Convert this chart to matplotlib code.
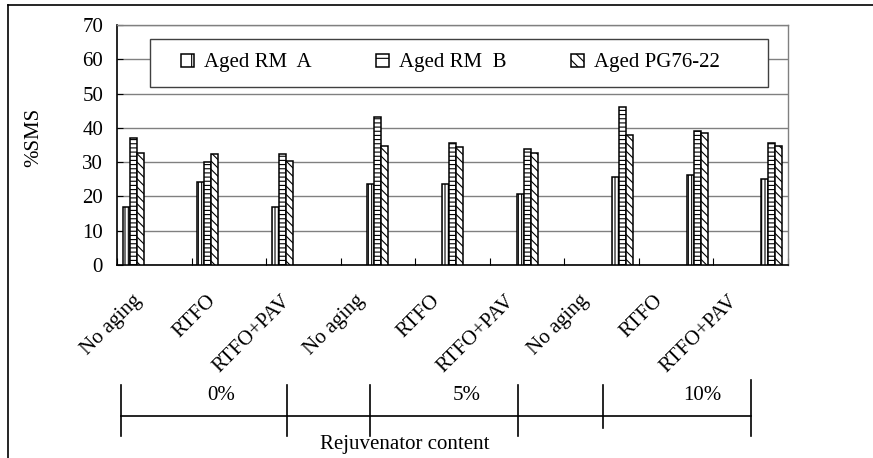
import matplotlib
matplotlib.use('Agg')
import matplotlib.pyplot as plt
import matplotlib.transforms as mtransforms
from matplotlib.patches import Patch, Rectangle
from matplotlib.lines import Line2D
import numpy as np

plt.rcParams['font.family'] = 'Liberation Serif'
plt.rcParams['font.size'] = 15
plt.rcParams['hatch.linewidth'] = 0.8

# data
aging = ['No aging', 'RTFO', 'RTFO+PAV']
contents = ['0%', '5%', '10%']
categories = aging * 3
series = ['Aged RM  A', 'Aged RM  B', 'Aged PG76-22']
rm_a = [17.0, 24.1, 17.0, 23.5, 23.5, 20.6, 25.7, 26.3, 25.1]
rm_b = [36.9, 29.9, 32.3, 43.2, 35.7, 33.8, 46.2, 39.2, 35.7]
pg76 = [32.7, 32.3, 30.4, 34.7, 34.5, 32.7, 38.0, 38.6, 34.7]
hatches = ['|||||', '----', '\\\\\\\\']
legend_hatches = ['|', '-', '\\\\\\']

W, H = 873, 458
fig = plt.figure(figsize=(W / 100, H / 100), dpi=100)


def fx(px):
    return px / W


def fy(py):
    return 1 - py / H


ax = fig.add_axes([fx(117), fy(265), (788 - 117) / W, (265 - 25) / H])

# each content level gets its own 3 slots inside a category (9 slots total)
slot = 7.0 / 74.5
start = 5.75 / 74.5
x = np.arange(len(categories))
level = x // len(aging)
for j, (vals, h) in enumerate(zip([rm_a, rm_b, pg76], hatches)):
    ax.bar(x + start + (3 * level + j) * slot, vals, width=slot, align='edge',
           color='white', edgecolor='black', linewidth=1.1, hatch=h, zorder=3)

ax.set_xlim(0, len(categories))
ax.set_ylim(0, 70)
ax.set_yticks(np.arange(0, 71, 10))
ax.yaxis.grid(True, color='#808080', linewidth=1.0)
ax.set_axisbelow(True)
ax.tick_params(axis='y', direction='in', length=4, pad=10, colors='black')

ax.set_xticks(np.arange(len(categories) + 1))
ax.set_xticklabels([])
ax.tick_params(axis='x', which='major', direction='in', length=5)
ax.set_xticks(x + 0.5, minor=True)
ax.set_xticklabels(categories, minor=True, rotation=45, ha='right', va='top')
ax.tick_params(axis='x', which='minor', length=0, pad=19)
shift = mtransforms.ScaledTranslation(-9 / 100, 0, fig.dpi_scale_trans)
for lab in ax.xaxis.get_minorticklabels():
    lab.set_transform(lab.get_transform() + shift)

for s in ['left', 'bottom']:
    ax.spines[s].set_color('black')
    ax.spines[s].set_linewidth(1.2)
for s in ['top', 'right']:
    ax.spines[s].set_color('#808080')
    ax.spines[s].set_linewidth(1.0)

fig.text(fx(34), fy(137), '%SMS', rotation=90, ha='center', va='center')

# legend box drawn separately so the entries can sit where they do in the original
fig.add_artist(Rectangle((fx(150), fy(87)), 618 / W, 48 / H, transform=fig.transFigure,
                         facecolor='white', edgecolor='#404040', linewidth=1.0, zorder=4))
handles = [Patch(facecolor='white', edgecolor='black', hatch=h, linewidth=1.1)
           for h in legend_hatches]
fig.legend(handles, series, loc='center left', ncol=3,
           bbox_to_anchor=(fx(181), fy(63)), frameon=False,
           handlelength=0.6, handleheight=0.6, handletextpad=0.5,
           columnspacing=3.1, borderaxespad=0, borderpad=0)

# outer frame (cropped box)
fig.add_artist(Line2D([fx(8), fx(8)], [0, fy(5)], transform=fig.transFigure,
                      color='black', linewidth=1.2))
fig.add_artist(Line2D([fx(8), 1], [fy(5), fy(5)], transform=fig.transFigure,
                      color='black', linewidth=1.2))

# rejuvenator content bracket
fig.add_artist(Line2D([fx(121), fx(751)], [fy(416), fy(416)],
                      transform=fig.transFigure, color='black', linewidth=1.2))
for px, top in [(121, 385), (287, 385), (370, 385), (518, 385), (603, 385), (751, 380)]:
    bottom = 428 if px == 603 else 436
    fig.add_artist(Line2D([fx(px), fx(px)], [fy(top), fy(bottom)],
                          transform=fig.transFigure, color='black', linewidth=1.2))
for lab, px in zip(contents, [221, 467, 702]):
    fig.text(fx(px), fy(396), lab, ha='center', va='center')
fig.text(fx(405), fy(445), 'Rejuvenator content', ha='center', va='center')

fig.savefig('out.png', dpi=100)
